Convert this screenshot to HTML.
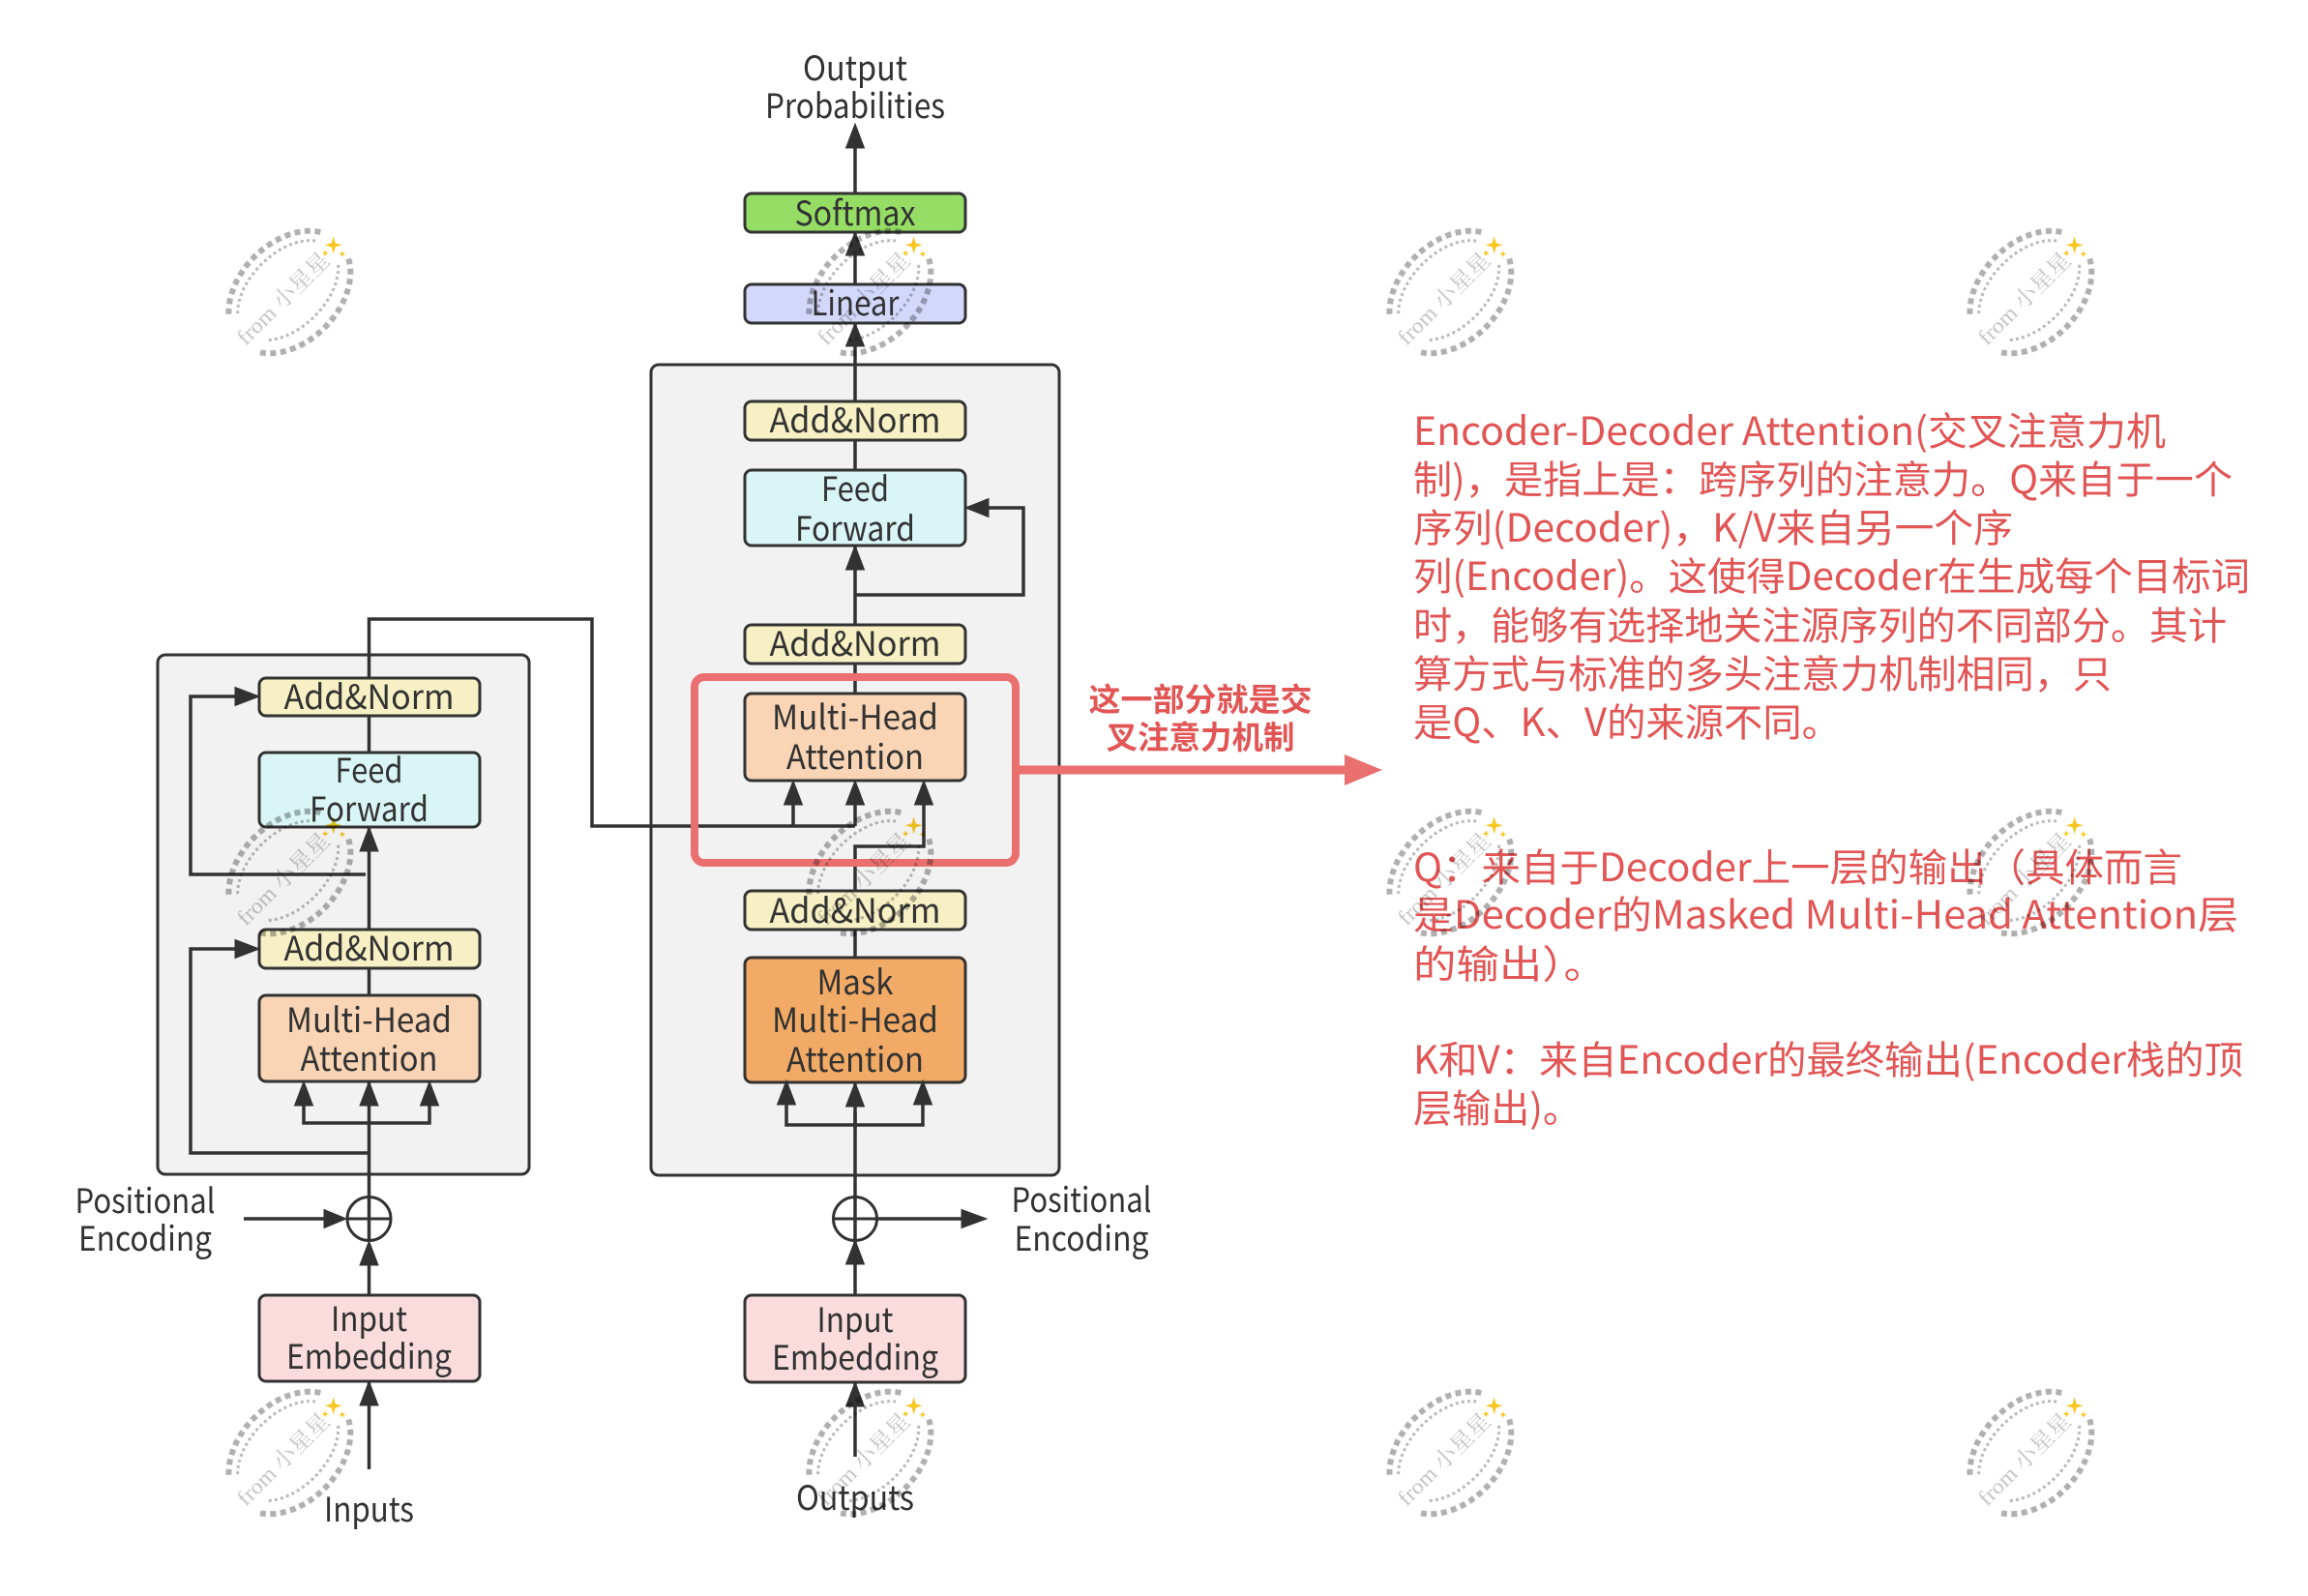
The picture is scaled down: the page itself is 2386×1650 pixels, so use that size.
<!DOCTYPE html>
<html><head><meta charset="utf-8"><style>
html,body{margin:0;padding:0;background:#fff}
svg{display:block}
text.l{font-family:"Noto Sans CJK SC","Liberation Sans",sans-serif;font-size:35px;fill:#323232;text-anchor:middle}
text.r{font-family:"Noto Sans CJK SC","Liberation Sans",sans-serif;font-size:40px;fill:#e25555}
text.b{font-family:"Noto Sans CJK SC","Liberation Sans",sans-serif;font-size:33px;font-weight:700;fill:#e25555;text-anchor:middle}
text.w{font-family:"Liberation Serif","Noto Serif CJK SC",serif;font-size:23px;fill:#c4c4c4}
.c{fill:#f2f2f2;stroke:#323232;stroke-width:3}
.n{stroke:#323232;stroke-width:3}
.ln{fill:none;stroke:#323232;stroke-width:3.5}
.ar{fill:#323232;stroke:#323232;stroke-width:1}
.wms{mix-blend-mode:multiply}
</style></head><body>
<svg xmlns="http://www.w3.org/2000/svg" width="2386" height="1650" viewBox="0 0 2386 1650">
<defs>
<g id="wm">
<path d="M-61,-26 A72,50 0 0 1 67,-17" fill="none" stroke="#b0b0b0" stroke-width="6" stroke-dasharray="6 4.5"/>
<path d="M67,21 A72,50 0 0 1 -66,25" fill="none" stroke="#b0b0b0" stroke-width="6" stroke-dasharray="6 4.5"/>
<path d="M-54,-20 A62,38 0 0 1 56,-16" fill="none" stroke="#b8b8b8" stroke-width="3" stroke-dasharray="3 3.2"/>
<path d="M55,18 A62,38 0 0 1 -53,20" fill="none" stroke="#b8b8b8" stroke-width="3" stroke-dasharray="3 3.2"/>
<g transform="translate(66,0) rotate(45)"><polygon points="0,-9 2,-2 9,0 2,2 0,9 -2,2 -9,0 -2,-2" fill="#f8c61e"/></g>
<g transform="translate(54,0) rotate(45)"><polygon points="0,-3.5 1,-1 3.5,0 1,1 0,3.5 -1,1 -3.5,0 -1,-1" fill="#f8c61e"/></g>
<g transform="translate(66,13) rotate(45)"><polygon points="0,-3.5 1,-1 3.5,0 1,1 0,3.5 -1,1 -3.5,0 -1,-1" fill="#f8c61e"/></g>
</g>
</defs>

<rect class="c" x="163" y="677" width="384" height="537" rx="8"/>
<rect class="c" x="673" y="377" width="422" height="838" rx="8"/>

<!-- encoder connectors -->
<path class="ln" d="M381.5,1519V1307"/>
<path class="ln" d="M381.5,1283V640H612V854H884"/>
<path class="ln" d="M378,904H197V720H245"/>
<path class="ln" d="M381.5,1192H197V981H245"/>
<path class="ln" d="M314,1140V1161H444V1140"/>
<path class="ln" d="M252,1260H338"/>
<!-- decoder connectors -->
<path class="ln" d="M884,1506V1150"/>
<path class="ln" d="M884,1167V875H955V830"/>
<path class="ln" d="M820,830V854"/>
<path class="ln" d="M884,830V854"/>
<path class="ln" d="M884,150V716"/>
<path class="ln" d="M885,615H1058V525H1020"/>
<path class="ln" d="M813,1140V1163H954V1140"/>
<path class="ln" d="M907,1260H996"/>

<!-- boxes -->
<g class="n">
<rect x="268" y="701" width="228" height="39" rx="7" fill="#f7f0c4"/>
<rect x="268" y="778" width="228" height="77" rx="7" fill="#daf5f5"/>
<rect x="268" y="961" width="228" height="40" rx="7" fill="#f7f0c4"/>
<rect x="268" y="1029" width="228" height="89" rx="7" fill="#f9d5b5"/>
<rect x="268" y="1339" width="228" height="89" rx="7" fill="#fadcdc"/>
<rect x="770" y="200" width="228" height="40" rx="7" fill="#96dd66"/>
<rect x="770" y="294" width="228" height="40" rx="7" fill="#d3d8fb"/>
<rect x="770" y="415" width="228" height="40" rx="7" fill="#f7f0c4"/>
<rect x="770" y="486" width="228" height="78" rx="7" fill="#daf5f5"/>
<rect x="770" y="646" width="228" height="40" rx="7" fill="#f7f0c4"/>
<rect x="770" y="717" width="228" height="90" rx="7" fill="#f9d5b5"/>
<rect x="770" y="921" width="228" height="40" rx="7" fill="#f7f0c4"/>
<rect x="770" y="990" width="228" height="129" rx="7" fill="#f2ab66"/>
<rect x="770" y="1339" width="228" height="90" rx="7" fill="#fadcdc"/>
</g>

<!-- arrowheads -->
<g class="ar">
<polygon points="381.5,855 372,880 391,880"/>
<polygon points="268,720 243,710.5 243,729.5"/>
<polygon points="268,981 243,971.5 243,990.5"/>
<polygon points="314,1118 304.5,1143 323.5,1143"/>
<polygon points="381.5,1118 372,1143 391,1143"/>
<polygon points="444,1118 434.5,1143 453.5,1143"/>
<polygon points="358,1260 335,1250.5 335,1269.5"/>
<polygon points="381.5,1283 372,1308 391,1308"/>
<polygon points="381.5,1428 372,1453 391,1453"/>
<polygon points="884,128 874.5,153 893.5,153"/>
<polygon points="884,240 874.5,264 893.5,264"/>
<polygon points="884,334 874.5,358 893.5,358"/>
<polygon points="884,564 874.5,589 893.5,589"/>
<polygon points="998,525 1022,515.5 1022,534.5"/>
<polygon points="820,807 810.5,832 829.5,832"/>
<polygon points="884,807 874.5,832 893.5,832"/>
<polygon points="955,807 945.5,832 964.5,832"/>
<polygon points="813,1117 803.5,1142 822.5,1142"/>
<polygon points="884,1119 874.5,1144 893.5,1144"/>
<polygon points="954,1117 944.5,1142 963.5,1142"/>
<polygon points="884,1282 874.5,1307 893.5,1307"/>
<polygon points="884,1429 874.5,1454 893.5,1454"/>
<polygon points="1020,1260 994,1250.5 994,1269.5"/>
</g>

<!-- circles -->
<g fill="none" stroke="#323232" stroke-width="3">
<circle cx="381.5" cy="1260" r="22.5"/><path d="M359,1260H404"/>
<circle cx="884" cy="1260" r="22.5"/><path d="M861.5,1260H906.5"/>
</g>

<!-- red highlight -->
<rect x="718" y="700" width="332" height="192" rx="10" fill="none" stroke="#ea6f6f" stroke-width="8"/>
<path d="M1054,796H1392" stroke="#ea6f6f" stroke-width="9" fill="none"/>
<polygon points="1429,796 1390,780 1390,812" fill="#ea6f6f"/>

<!-- labels -->
<g>
<text class="l" x="381.5" y="733" textLength="176" lengthAdjust="spacingAndGlyphs">Add&amp;Norm</text>
<text class="l" x="381.5" y="809" textLength="70" lengthAdjust="spacingAndGlyphs">Feed</text>
<text class="l" x="381.5" y="849" textLength="123" lengthAdjust="spacingAndGlyphs">Forward</text>
<text class="l" x="381.5" y="993" textLength="176" lengthAdjust="spacingAndGlyphs">Add&amp;Norm</text>
<text class="l" x="381.5" y="1067" textLength="171" lengthAdjust="spacingAndGlyphs">Multi-Head</text>
<text class="l" x="381.5" y="1107" textLength="142" lengthAdjust="spacingAndGlyphs">Attention</text>
<text class="l" x="381.5" y="1376" textLength="79" lengthAdjust="spacingAndGlyphs">Input</text>
<text class="l" x="381.5" y="1415" textLength="171" lengthAdjust="spacingAndGlyphs">Embedding</text>
<text class="l" x="381.5" y="1573" textLength="93" lengthAdjust="spacingAndGlyphs">Inputs</text>
<text class="l" x="150" y="1254" textLength="145" lengthAdjust="spacingAndGlyphs">Positional</text>
<text class="l" x="150" y="1293" textLength="138" lengthAdjust="spacingAndGlyphs">Encoding</text>

<text class="l" x="884" y="83" textLength="108" lengthAdjust="spacingAndGlyphs">Output</text>
<text class="l" x="884" y="122" textLength="186" lengthAdjust="spacingAndGlyphs">Probabilities</text>
<text class="l" x="884" y="233" textLength="125" lengthAdjust="spacingAndGlyphs">Softmax</text>
<text class="l" x="884" y="326" textLength="91" lengthAdjust="spacingAndGlyphs">Linear</text>
<text class="l" x="884" y="447" textLength="177" lengthAdjust="spacingAndGlyphs">Add&amp;Norm</text>
<text class="l" x="884" y="518" textLength="70" lengthAdjust="spacingAndGlyphs">Feed</text>
<text class="l" x="884" y="559" textLength="124" lengthAdjust="spacingAndGlyphs">Forward</text>
<text class="l" x="884" y="678" textLength="177" lengthAdjust="spacingAndGlyphs">Add&amp;Norm</text>
<text class="l" x="884" y="754" textLength="172" lengthAdjust="spacingAndGlyphs">Multi-Head</text>
<text class="l" x="884" y="795" textLength="142" lengthAdjust="spacingAndGlyphs">Attention</text>
<text class="l" x="884" y="954" textLength="177" lengthAdjust="spacingAndGlyphs">Add&amp;Norm</text>
<text class="l" x="884" y="1028" textLength="79" lengthAdjust="spacingAndGlyphs">Mask</text>
<text class="l" x="884" y="1067" textLength="172" lengthAdjust="spacingAndGlyphs">Multi-Head</text>
<text class="l" x="884" y="1108" textLength="142" lengthAdjust="spacingAndGlyphs">Attention</text>
<text class="l" x="884" y="1377" textLength="79" lengthAdjust="spacingAndGlyphs">Input</text>
<text class="l" x="884" y="1416" textLength="172" lengthAdjust="spacingAndGlyphs">Embedding</text>
<text class="l" x="884" y="1561" textLength="122" lengthAdjust="spacingAndGlyphs">Outputs</text>
<text class="l" x="1118" y="1253" textLength="145" lengthAdjust="spacingAndGlyphs">Positional</text>
<text class="l" x="1118" y="1293" textLength="139" lengthAdjust="spacingAndGlyphs">Encoding</text>

<text class="b" x="1241" y="735" textLength="231" lengthAdjust="spacingAndGlyphs">这一部分就是交</text>
<text class="b" x="1241" y="774" textLength="195" lengthAdjust="spacingAndGlyphs">叉注意力机制</text>
</g>

<g>
<text class="r" x="1461" y="460" textLength="778" lengthAdjust="spacingAndGlyphs">Encoder-Decoder Attention(交叉注意力机</text>
<text class="r" x="1461" y="510" textLength="847" lengthAdjust="spacingAndGlyphs">制)，是指上是：跨序列的注意力。Q来自于一个</text>
<text class="r" x="1461" y="560" textLength="620" lengthAdjust="spacingAndGlyphs">序列(Decoder)，K/V来自另一个序</text>
<text class="r" x="1461" y="610" textLength="865" lengthAdjust="spacingAndGlyphs">列(Encoder)。这使得Decoder在生成每个目标词</text>
<text class="r" x="1461" y="661" textLength="841" lengthAdjust="spacingAndGlyphs">时，能够有选择地关注源序列的不同部分。其计</text>
<text class="r" x="1461" y="711" textLength="722" lengthAdjust="spacingAndGlyphs">算方式与标准的多头注意力机制相同，只</text>
<text class="r" x="1461" y="761" textLength="442" lengthAdjust="spacingAndGlyphs">是Q、K、V的来源不同。</text>
<text class="r" x="1461" y="911" textLength="795" lengthAdjust="spacingAndGlyphs">Q：来自于Decoder上一层的输出（具体而言</text>
<text class="r" x="1461" y="960" textLength="853" lengthAdjust="spacingAndGlyphs">是Decoder的Masked Multi-Head Attention层</text>
<text class="r" x="1461" y="1011" textLength="200" lengthAdjust="spacingAndGlyphs">的输出）。</text>
<text class="r" x="1461" y="1110" textLength="858" lengthAdjust="spacingAndGlyphs">K和V：来自Encoder的最终输出(Encoder栈的顶</text>
<text class="r" x="1461" y="1160" textLength="174" lengthAdjust="spacingAndGlyphs">层输出)。</text>
</g>

<!-- watermarks -->
<g class="wms">
<g transform="translate(298,300) rotate(-45)"><use href="#wm"/><text class="w" x="-72" y="10" textLength="124" lengthAdjust="spacingAndGlyphs">from 小星星</text></g>
<g transform="translate(898,300) rotate(-45)"><use href="#wm"/><text class="w" x="-72" y="10" textLength="124" lengthAdjust="spacingAndGlyphs">from 小星星</text></g>
<g transform="translate(1498,300) rotate(-45)"><use href="#wm"/><text class="w" x="-72" y="10" textLength="124" lengthAdjust="spacingAndGlyphs">from 小星星</text></g>
<g transform="translate(2098,300) rotate(-45)"><use href="#wm"/><text class="w" x="-72" y="10" textLength="124" lengthAdjust="spacingAndGlyphs">from 小星星</text></g>
<g transform="translate(298,900) rotate(-45)"><use href="#wm"/><text class="w" x="-72" y="10" textLength="124" lengthAdjust="spacingAndGlyphs">from 小星星</text></g>
<g transform="translate(898,900) rotate(-45)"><use href="#wm"/><text class="w" x="-72" y="10" textLength="124" lengthAdjust="spacingAndGlyphs">from 小星星</text></g>
<g transform="translate(1498,900) rotate(-45)"><use href="#wm"/><text class="w" x="-72" y="10" textLength="124" lengthAdjust="spacingAndGlyphs">from 小星星</text></g>
<g transform="translate(2098,900) rotate(-45)"><use href="#wm"/><text class="w" x="-72" y="10" textLength="124" lengthAdjust="spacingAndGlyphs">from 小星星</text></g>
<g transform="translate(298,1500) rotate(-45)"><use href="#wm"/><text class="w" x="-72" y="10" textLength="124" lengthAdjust="spacingAndGlyphs">from 小星星</text></g>
<g transform="translate(898,1500) rotate(-45)"><use href="#wm"/><text class="w" x="-72" y="10" textLength="124" lengthAdjust="spacingAndGlyphs">from 小星星</text></g>
<g transform="translate(1498,1500) rotate(-45)"><use href="#wm"/><text class="w" x="-72" y="10" textLength="124" lengthAdjust="spacingAndGlyphs">from 小星星</text></g>
<g transform="translate(2098,1500) rotate(-45)"><use href="#wm"/><text class="w" x="-72" y="10" textLength="124" lengthAdjust="spacingAndGlyphs">from 小星星</text></g>
</g>
</svg>
</body></html>
